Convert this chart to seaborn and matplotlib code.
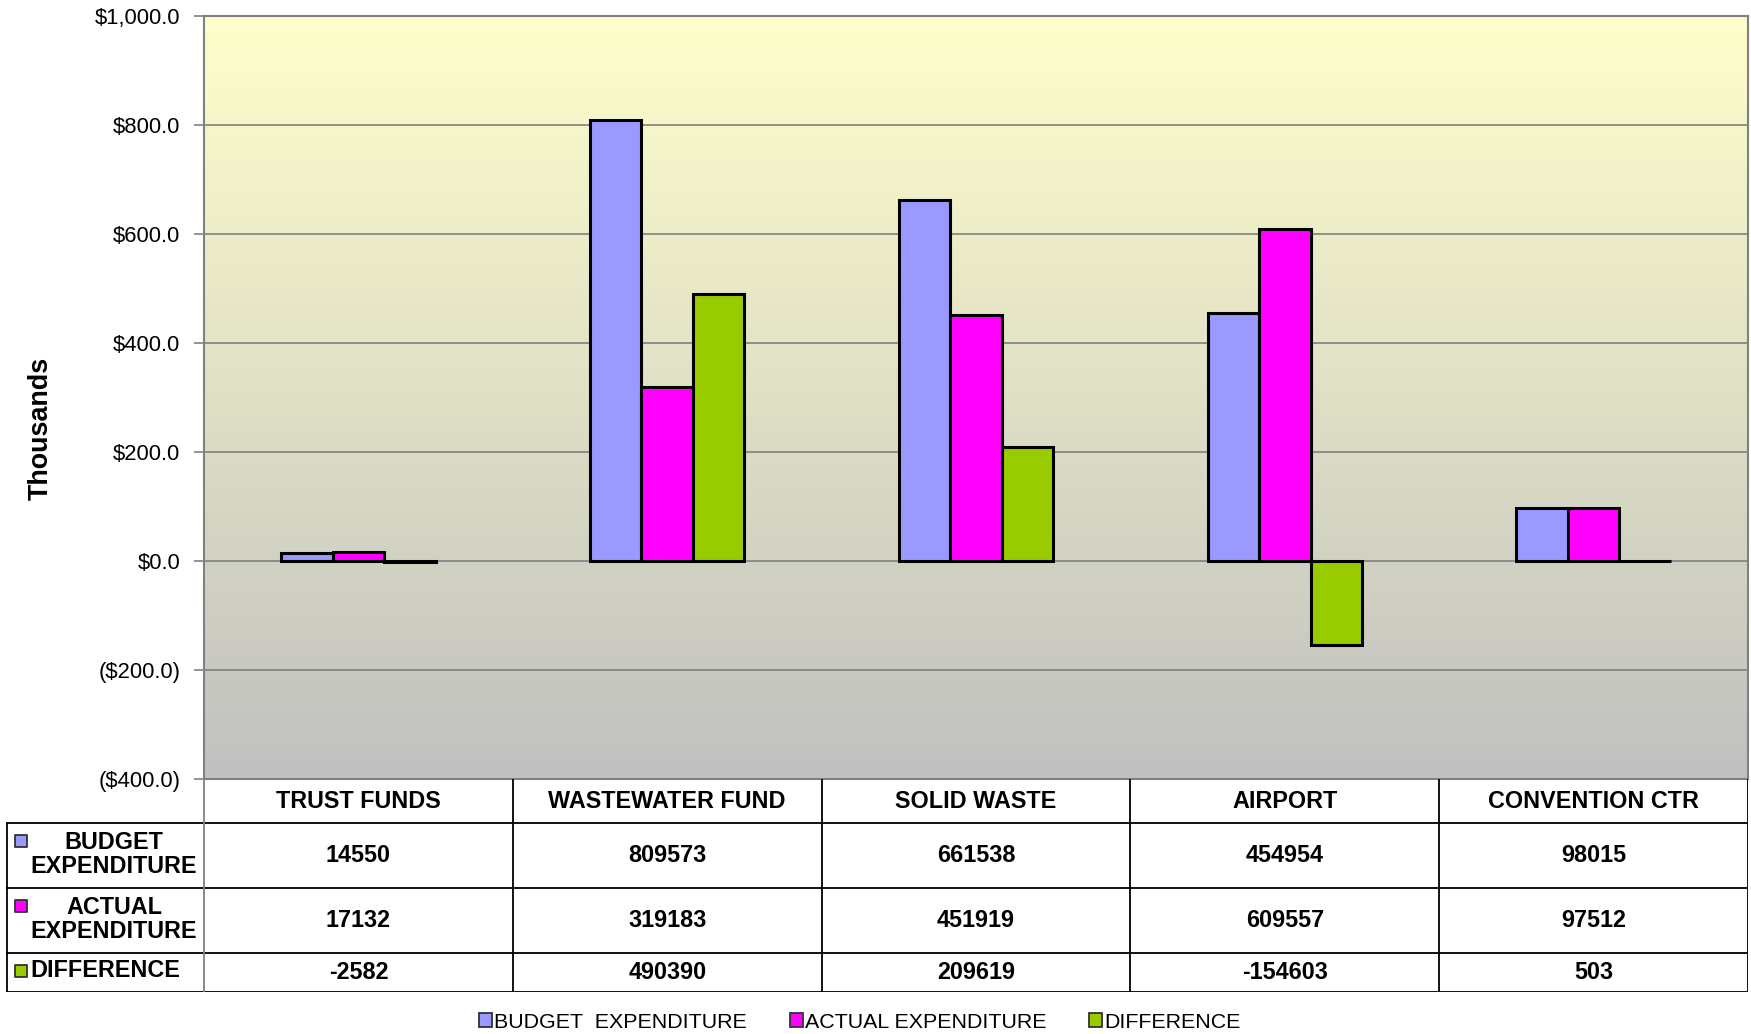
import pandas as pd
import numpy as np
import matplotlib
matplotlib.use('Agg')
import matplotlib.pyplot as plt
import seaborn as sns
from matplotlib.colors import LinearSegmentedColormap
from matplotlib.patches import Patch
from matplotlib.ticker import FuncFormatter

# Данные из таблицы (в долларах)
funds = ['TRUST FUNDS', 'WASTEWATER FUND', 'SOLID WASTE', 'AIRPORT', 'CONVENTION CTR']
budget = [14550, 809573, 661538, 454954, 98015]
actual = [17132, 319183, 451919, 609557, 97512]
difference = [-2582, 490390, 209619, -154603, 503]

series_names = ['BUDGET  EXPENDITURE', 'ACTUAL EXPENDITURE', 'DIFFERENCE']
row_labels = ['BUDGET\nEXPENDITURE', 'ACTUAL\nEXPENDITURE', 'DIFFERENCE']
colors = ['#9999FF', '#FF00FF', '#99CC00']

# Длинный формат для seaborn, значения в тысячах
df = pd.DataFrame({
    'fund': funds * 3,
    'series': [s for s in series_names for _ in funds],
    'value': budget + actual + difference,
})
df['thousands'] = df['value'] / 1000

plt.rcParams['font.family'] = ['Liberation Sans', 'DejaVu Sans']

W, H = 1751, 1034
fig = plt.figure(figsize=(W / 100, H / 100), dpi=100)

# Область графика в пикселях
left, right, top, bottom = 204, 1748, 16, 779
ax = fig.add_axes([left / W, 1 - bottom / H, (right - left) / W, (bottom - top) / H])

sns.barplot(data=df, x='fund', y='thousands', hue='series', hue_order=series_names,
            palette=colors, saturation=1, width=0.5, gap=0, edgecolor='black',
            linewidth=2.2, legend=False, ax=ax, zorder=2)

# Градиентный фон
bg = LinearSegmentedColormap.from_list('bg', ['#C0C0C0', '#FFFFCC'])
grad = np.linspace(0, 1, 256).reshape(-1, 1)
ax.imshow(grad, extent=[-0.5, 4.5, -400, 1000], origin='lower', aspect='auto',
          cmap=bg, zorder=-2)

ax.set_xlim(-0.5, 4.5)
ax.set_ylim(-400, 1000)
ax.set_yticks(np.arange(-400, 1001, 200))
ax.yaxis.set_major_formatter(FuncFormatter(
    lambda v, p: f'${v:,.1f}' if v >= 0 else f'(${-v:,.1f})'))
ax.tick_params(axis='y', labelsize=15.8, length=7, width=1.2, color='#808080', pad=10)
ax.tick_params(axis='x', bottom=False, labelbottom=False)
ax.set_xlabel('')
ax.set_ylabel('')
ax.yaxis.grid(True, color='#808080', linewidth=1.2, zorder=-1)
ax.set_axisbelow(True)
for sp in ax.spines.values():
    sp.set_color('#808080')
    sp.set_linewidth(1.5)

fig.text(41 / W, 1 - 428 / H, 'Thousands', rotation=90, ha='center', va='center',
         fontsize=19.4, fontweight='bold')

# Таблица данных под графиком
t_left, t_bottom = 6, 992
row_edges = [779, 823, 888, 953, 992]
ax_t = fig.add_axes([t_left / W, 1 - t_bottom / H, (right - t_left) / W, (t_bottom - bottom) / H])
unit = (right - left) / 5
x0 = -0.5 - (left - t_left) / unit
ax_t.set_xlim(x0, 4.5)
ax_t.set_ylim(t_bottom, bottom)
ax_t.axis('off')

fs = 16.8
lw = 1.3
# горизонтальные линии
ax_t.hlines(row_edges[1:], x0, 4.5, color='black', linewidth=lw)
# вертикальные линии
for i in range(6):
    ax_t.vlines(i - 0.5, row_edges[0], row_edges[-1], color='black' if i > 0 else '#808080',
                linewidth=lw)
ax_t.vlines(x0 + 0.002, row_edges[1], row_edges[-1], color='black', linewidth=lw)

for i, name in enumerate(funds):
    ax_t.text(i, (row_edges[0] + row_edges[1]) / 2, name, ha='center', va='center',
              fontsize=fs, fontweight='bold')

rows = [budget, actual, difference]
for r, (vals, lab, col) in enumerate(zip(rows, row_labels, colors)):
    yc = (row_edges[r + 1] + row_edges[r + 2]) / 2
    for i, v in enumerate(vals):
        ax_t.text(i, yc, str(v), ha='center', va='center', fontsize=fs, fontweight='bold')
    xm = x0 + (21 - t_left) / unit
    if '\n' in lab:
        ax_t.text(x0 + (114 - t_left) / unit, yc - 1, lab, ha='center', va='center',
                  fontsize=fs, fontweight='bold', linespacing=1.05)
        ax_t.scatter([xm], [yc - 15], marker='s', s=80, color=col, edgecolor='#333333',
                     linewidth=1.3, zorder=3)
    else:
        ax_t.text(x0 + (30 - t_left) / unit, yc - 2, lab, ha='left', va='center',
                  fontsize=fs, fontweight='bold')
        ax_t.scatter([xm], [yc - 2], marker='s', s=80, color=col, edgecolor='#333333',
                     linewidth=1.3, zorder=3)

# Легенда
handles = [Patch(facecolor=c, edgecolor='#333333', linewidth=1.3) for c in colors]
fig.legend(handles, series_names, loc='center', bbox_to_anchor=(860 / W, 1 - 1022 / H),
           ncol=3, frameon=False, fontsize=15.4, handlelength=0.6, handleheight=0.6,
           handletextpad=0.1, columnspacing=2.0)

fig.savefig('out.png', dpi=100)
